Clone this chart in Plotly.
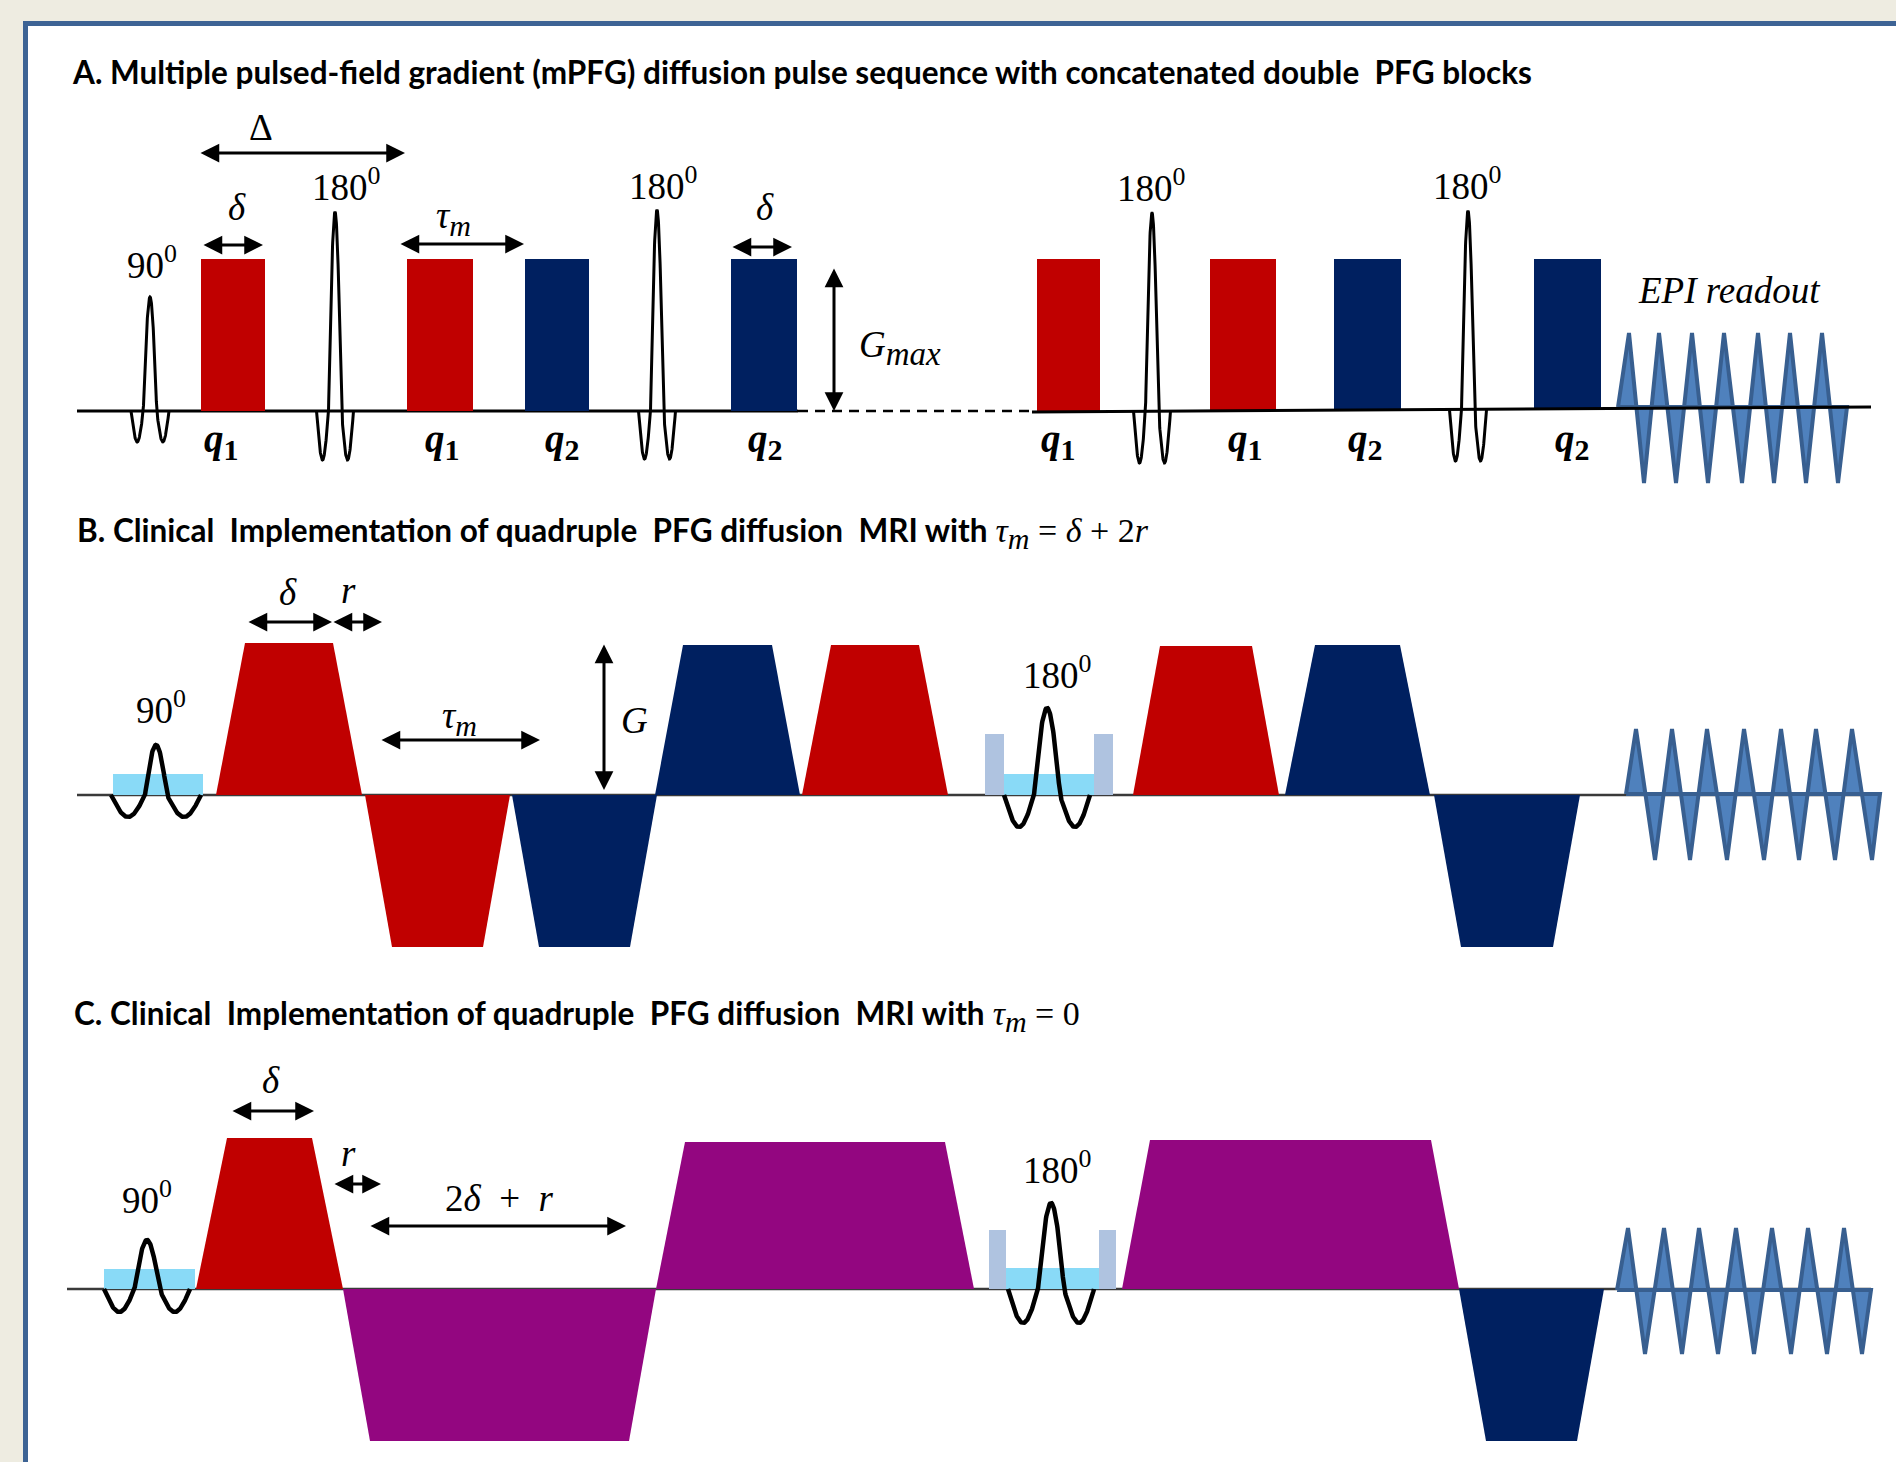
import numpy as np
import plotly.graph_objects as go

W, H = 1896, 1462

# ---------------- colours ----------------
RED = "#C00000"
NAVY = "#002060"
PURPLE = "#930680"
SLICE = "#89DAF7"
CRUSH = "#AFC3E0"
EPI_FILL = "#4F81BD"
EPI_LINE = "#385F90"
COLS = {"r": RED, "n": NAVY, "p": PURPLE}

# ---------------- panel A : rectangular PFG lobes ----------------
A_base = 411
A_grad_start = [201, 407, 525, 731, 1037, 1210, 1334, 1534]
A_grad_end = [265, 473, 589, 797, 1100, 1276, 1401, 1601]
A_grad_top = [259, 259, 259, 259, 259, 259, 259, 259]
A_grad_bottom = [411, 411, 411, 411, 412, 411, 409, 408]
A_grad_col = ["r", "r", "n", "n", "r", "r", "n", "n"]

A_rf_center = [150, 335, 657, 1152, 1468]
A_rf_peak = [297, 212, 210, 213, 211]
A_rf_lobe = [442, 460, 459, 463, 461]
A_rf_base = [411, 411, 411, 411, 410]
A_rf_zero = [6.7, 6.5, 6.5, 6.5, 6.5]
A_rf_end = [19, 18.5, 18.5, 18.5, 18.5]

A_epi_up = [1629, 1659, 1692, 1724, 1758, 1790, 1822]
A_epi_down = [1644, 1676, 1708, 1742, 1774, 1806, 1838]
A_epi_top, A_epi_bottom, A_epi_base = 333, 483, 407
A_epi_start, A_epi_stop = 1618, 1847

# ---------------- panel B : trapezoids ----------------
B_base = 795
B_grad_start = [216, 365, 512, 655, 802, 1133, 1285, 1434]
B_grad_end = [362, 510, 657, 800, 948, 1279, 1430, 1580]
B_grad_ramp = [29, 27, 27, 28, 29, 27, 30, 27]
B_grad_amp = [152, -152, -152, 150, 150, 149, 150, -152]
B_grad_col = ["r", "r", "n", "n", "r", "r", "n", "n"]

B_rf_center = [156, 1047]
B_rf_peak = [745, 708]
B_rf_lobe = [817, 827]
B_rf_zero = [11, 13]
B_rf_end = [45, 43]

B_slice_x0 = [113, 1004]
B_slice_x1 = [203, 1094]
B_slice_top = [774, 774]
B_crush_x0 = [985, 1094]
B_crush_x1 = [1004, 1113]
B_crush_top = [734, 734]

B_epi_up = [1636, 1672, 1707, 1744, 1781, 1816, 1852]
B_epi_down = [1655, 1690, 1727, 1764, 1799, 1835, 1872]
B_epi_top, B_epi_bottom, B_epi_base = 729, 860, 794
B_epi_start, B_epi_stop = 1626, 1880

# ---------------- panel C : trapezoids ----------------
C_base = 1289
C_grad_start = [196, 343, 656, 1122, 1459]
C_grad_end = [343, 656, 974, 1459, 1604]
C_grad_ramp = [31, 27, 29, 28, 27]
C_grad_amp = [151, -152, 147, 149, -152]
C_grad_col = ["r", "p", "p", "p", "n"]

C_rf_center = [147, 1051]
C_rf_peak = [1240, 1203]
C_rf_lobe = [1312, 1323]
C_rf_zero = [12.5, 13]
C_rf_end = [43, 43]

C_slice_x0 = [104, 1006]
C_slice_x1 = [195, 1099]
C_slice_top = [1269, 1268]
C_crush_x0 = [989, 1099]
C_crush_x1 = [1006, 1116]
C_crush_top = [1230, 1230]

C_epi_up = [1628, 1664, 1699, 1736, 1772, 1808, 1844]
C_epi_down = [1645, 1682, 1718, 1754, 1791, 1827, 1862]
C_epi_top, C_epi_bottom, C_epi_base = 1228, 1354, 1290
C_epi_start, C_epi_stop = 1617, 1871

# ---------------- text ----------------
SERIF = "Liberation Serif"
SP = "\u2002"
TS = "\u2005"
MSUB = '<sub><span style="font-size:30px"><i>m</i></span></sub>'
MATH = "<span style=\"font-family:'Liberation Serif';font-size:34px\">%s</span>"
titles = [
    (70, 72, "<b>A. Multiple pulsed-field gradient (mPFG) diffusion pulse sequence with concatenated double\u00a0 PFG blocks</b>"),
    (75, 533, "<b>B. Clinical\u00a0 Implementation of quadruple\u00a0 PFG diffusion\u00a0 MRI with</b> "
     + MATH % ("<i>τ</i>" + MSUB + TS + "=" + TS + "<i>δ</i>" + TS + "+" + TS + "2<i>r</i>")),
    (72, 1016, "<b>C. Clinical\u00a0 Implementation of quadruple\u00a0 PFG diffusion\u00a0 MRI with</b> "
     + MATH % ("<i>τ</i>" + MSUB + TS + "=" + TS + "0")),
]

TAU = "<i>τ</i>" + MSUB
DEG = "<sup>0</sup>"
labels = [
    (261, 127, "Δ"), (237, 207, "<i>δ</i>"), (346, 184, "180" + DEG),
    (663, 183, "180" + DEG), (1151, 185, "180" + DEG), (1467, 183, "180" + DEG),
    (152, 262, "90" + DEG), (453, 218, TAU),
    (765, 207, "<i>δ</i>"), (900, 348, '<i>G</i><sub><span style="font-size:33px"><i>max</i></span></sub>'),
    (1729, 290, "<i>EPI readout</i>"),
    (288, 592, "<i>δ</i>"), (348, 590, "<i>r</i>"), (161, 707, "90" + DEG),
    (459, 718, TAU), (634, 720, "<i>G</i>"), (1057, 672, "180" + DEG),
    (271, 1080, "<i>δ</i>"), (348, 1153, "<i>r</i>"),
    (499, 1198, "2<i>δ</i>" + SP + "+" + SP + "<i>r</i>"),
    (147, 1197, "90" + DEG), (1057, 1167, "180" + DEG),
]
q_labels = [
    (221, 441, "1"), (442, 441, "1"), (562, 441, "2"), (765, 441, "2"),
    (1058, 441, "1"), (1245, 441, "1"), (1365, 441, "2"), (1572, 441, "2"),
]

# double arrows: (x0, y0, x1, y1)
arrows = [
    (199, 153, 405, 153), (202, 245, 263, 245), (399, 244, 524, 244), (731, 247, 792, 247),
    (834, 267, 834, 411),
    (247, 622, 332, 622), (332, 622, 382, 622), (380, 740, 540, 740), (604, 643, 604, 790),
    (231, 1111, 314, 1111), (333, 1184, 381, 1184), (369, 1226, 626, 1226),
]

fig = go.Figure()


def poly(xs, ys, fill, line_col=None, lw=0):
    fig.add_trace(go.Scatter(
        x=xs, y=ys, mode="lines", fill="toself", fillcolor=fill,
        line=dict(color=line_col or fill, width=lw), hoverinfo="skip", showlegend=False))


def line(xs, ys, col="black", lw=3, dash=None):
    fig.add_trace(go.Scatter(
        x=xs, y=ys, mode="lines", line=dict(color=col, width=lw, dash=dash),
        hoverinfo="skip", showlegend=False))


def rf(c, peak, lobe, base, z, e, lw):
    u = np.linspace(-e, e, 241)
    P = base - peak
    L = lobe - base
    y = np.where(np.abs(u) <= z,
                 base - P * np.cos(np.pi / 2 * u / z),
                 base + L * np.sin(np.pi * (np.abs(u) - z) / (e - z)))
    line(c + u, y, "black", lw)


def trap(x0, x1, ramp, amp, base, col):
    poly([x0, x0 + ramp, x1 - ramp, x1, x0],
         [base, base - amp, base - amp, base, base], col)


def epi(ups, downs, top, bottom, base, start, stop):
    xs, ys = [start], [base]
    for u, d in zip(ups, downs):
        xs += [u, d]
        ys += [top, bottom]
    xs += [stop, start]
    ys += [base, base]
    poly(xs, ys, EPI_FILL, EPI_LINE, 4)


# ---- Panel A ----
line([77, 798], [A_base, A_base], "black", 3)
line([798, 1032], [A_base, A_base], "black", 2.5, "10px,7px")
for x0, x1, t, b, c in zip(A_grad_start, A_grad_end, A_grad_top, A_grad_bottom, A_grad_col):
    poly([x0, x1, x1, x0, x0], [b, b, t, t, b], COLS[c])
for c, p, l, b, z, e in zip(A_rf_center, A_rf_peak, A_rf_lobe, A_rf_base, A_rf_zero, A_rf_end):
    rf(c, p, l, b, z, e, 3)
epi(A_epi_up, A_epi_down, A_epi_top, A_epi_bottom, A_epi_base, A_epi_start, A_epi_stop)
line([1032, 1871], [412, 407], "black", 3)

# ---- Panel B ----
line([77, 1880], [B_base, B_base], "#3a3a3a", 2.5)
for x0, x1, r, a, c in zip(B_grad_start, B_grad_end, B_grad_ramp, B_grad_amp, B_grad_col):
    trap(x0, x1, r, a, B_base, COLS[c])
for x0, x1, t in zip(B_crush_x0, B_crush_x1, B_crush_top):
    poly([x0, x1, x1, x0, x0], [B_base, B_base, t, t, B_base], CRUSH)
for x0, x1, t in zip(B_slice_x0, B_slice_x1, B_slice_top):
    poly([x0, x1, x1, x0, x0], [B_base, B_base, t, t, B_base], SLICE)
for c, p, l, z, e in zip(B_rf_center, B_rf_peak, B_rf_lobe, B_rf_zero, B_rf_end):
    rf(c, p, l, B_base, z, e, 4.5)
epi(B_epi_up, B_epi_down, B_epi_top, B_epi_bottom, B_epi_base, B_epi_start, B_epi_stop)

# ---- Panel C ----
line([67, 1871], [C_base, C_base], "#3a3a3a", 2.5)
for x0, x1, r, a, c in zip(C_grad_start, C_grad_end, C_grad_ramp, C_grad_amp, C_grad_col):
    trap(x0, x1, r, a, C_base, COLS[c])
for x0, x1, t in zip(C_crush_x0, C_crush_x1, C_crush_top):
    poly([x0, x1, x1, x0, x0], [C_base, C_base, t, t, C_base], CRUSH)
for x0, x1, t in zip(C_slice_x0, C_slice_x1, C_slice_top):
    poly([x0, x1, x1, x0, x0], [C_base, C_base, t, t, C_base], SLICE)
for c, p, l, z, e in zip(C_rf_center, C_rf_peak, C_rf_lobe, C_rf_zero, C_rf_end):
    rf(c, p, l, C_base, z, e, 4.5)
epi(C_epi_up, C_epi_down, C_epi_top, C_epi_bottom, C_epi_base, C_epi_start, C_epi_stop)

ann = []
for x, y, t in titles:
    ann.append(dict(x=x, y=y, text=t, xref="x", yref="y", showarrow=False,
                    xanchor="left", yanchor="middle",
                    font=dict(family="Lato", size=31.5, color="black")))
for x, y, t in labels:
    ann.append(dict(x=x, y=y, text=t, xref="x", yref="y", showarrow=False,
                    xanchor="center", yanchor="middle",
                    font=dict(family=SERIF, size=37, color="black")))
for x, y, s in q_labels:
    ann.append(dict(x=x, y=y, text="<b><i>q</i></b><sub><span style=\"font-size:30px\"><b>%s</b></span></sub>" % s,
                    xref="x", yref="y",
                    showarrow=False, xanchor="center", yanchor="middle",
                    font=dict(family=SERIF, size=39, color="black")))
for x0, y0, x1, y1 in arrows:
    ann.append(dict(x=x1, y=y1, ax=x0, ay=y0, xref="x", yref="y", axref="x", ayref="y",
                    text="", showarrow=True, arrowhead=2, startarrowhead=2,
                    arrowside="end+start", arrowsize=1.25, startarrowsize=1.25,
                    arrowwidth=3, arrowcolor="black", standoff=0, startstandoff=0))

fig.update_layout(
    width=W, height=H, margin=dict(l=0, r=0, t=0, b=0),
    paper_bgcolor="#EEECE1", plot_bgcolor="#EEECE1",
    xaxis=dict(range=[0, W], visible=False, fixedrange=True),
    yaxis=dict(range=[H, 0], visible=False, fixedrange=True),
    shapes=[dict(type="rect", xref="x", yref="y", x0=25.5, y0=23.5, x1=W + 20, y1=H + 20,
                 fillcolor="white", line=dict(color="#3D6394", width=5), layer="below")],
    annotations=ann,
)

fig.write_html("out.html", config={"displayModeBar": False},
               post_script="document.body.style.margin='0';document.body.style.background='#EEECE1';")
